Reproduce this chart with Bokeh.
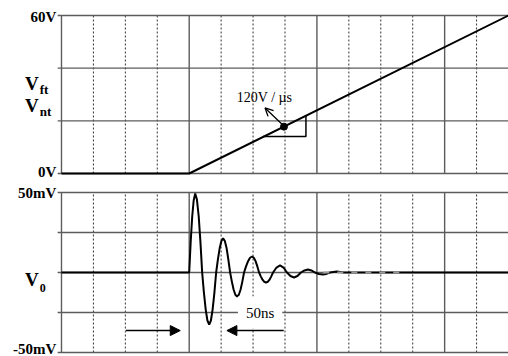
from bokeh.plotting import figure
from bokeh.models import Range1d, Label, Arrow, NormalHead, OpenHead
from bokeh.layouts import column
from bokeh.embed import file_html
from bokeh.resources import INLINE

# ---------------- data (time in ns) ----------------
major_t = [0, 200, 400, 600]
minor_t = [50, 100, 150, 250, 300, 350, 450, 500, 550, 650]

# top panel: V_ft / V_nt ramp (V)
ramp_t = [0, 200, 700]
ramp_v = [0, 0, 60]
top_grid_v = [0, 20, 40, 60]
top_ticks = [0, 60]
top_tick_labels = ["0V", "60V"]

# bottom panel: V_o ringing (mV)
osc_t = [0, 200, 202.3, 204.7, 207.0, 209.4, 212.1, 214.9, 217.6, 220.3,
         223.0, 225.8, 228.5, 231.3, 234.0, 236.7, 239.5, 242.2,
         244.9, 247.7, 250.4, 253.1, 255.8, 258.6, 261.3, 264.1,
         266.8, 269.5, 272.3, 275.0, 277.7, 280.5, 283.2, 285.9,
         289.0, 292.2, 295.3, 298.4, 301.2, 303.9, 306.7, 309.4,
         312.1, 314.8, 317.6, 320.3, 323.0, 325.8, 328.5, 331.3,
         336.7, 342.2, 347.7, 353.1, 358.6, 364.1, 369.5, 375.0,
         380.5, 385.9, 391.4, 396.9, 403.1, 409.4, 414.8, 420.3,
         431.2, 442.2, 700]
osc_v = [0, 0, 19, 35, 45, 49.4, 45.6, 35, 19, 0,
         -12.4, -23, -30, -32.5, -30, -23, -12.4, 0,
         8.1, 15.1, 19.7, 21.3, 19.7, 15.1, 8.1, 0,
         -5.7, -10.6, -13.9, -15, -13.9, -10.6, -5.7, 0,
         3.8, 7.1, 9.2, 10, 9.2, 7.1, 3.8, 0,
         -2.4, -4.5, -5.8, -6.3, -5.8, -4.5, -2.4, 0,
         3.1, 4.4, 3.1, 0, -2.2, -3.1, -2.2, 0,
         1.3, 1.9, 1.3, 0, -0.9, -1.25, -0.9, 0,
         0.6, 0, 0]
residue_t = [410, 530]
residue_v = [0, 0]
bot_grid_v = [-50, -25, 0, 25, 50]
bot_ticks = [-50, 50]
bot_tick_labels = ["-50mV", "50mV"]

# annotations
slope_text = "120V / \u00b5s"
slope_dot_t, slope_dot_v = [348.4], [17.8]
tri_t = [315.6, 382.8, 382.8]
tri_v = [14.05, 14.05, 22.0]

SERIF = "Liberation Serif"
GRID_SOLID = "#5c5c5c"
GRID_DOT = "#333333"
T_MIN, T_MAX = -95.5, 700
TICK_OUT = -6


def make_fig(height, y0, y1, vlo, vhi, grid_v, ticks, labels, label_y):
    p = figure(width=508, height=height, output_backend="svg", toolbar_location=None,
               x_axis_location=None, y_axis_location=None,
               x_range=Range1d(T_MIN, T_MAX), y_range=Range1d(y0, y1),
               min_border_left=0, min_border_right=0,
               min_border_top=0, min_border_bottom=0)
    p.outline_line_color = None
    p.background_fill_color = "white"
    p.border_fill_color = "white"
    p.xgrid.visible = False
    p.ygrid.visible = False
    # dotted minor vertical grid
    p.segment(x0=minor_t, y0=[vlo] * len(minor_t), x1=minor_t, y1=[vhi] * len(minor_t),
              line_color=GRID_DOT, line_width=1, line_dash="2 2")
    # solid major vertical grid
    p.segment(x0=major_t, y0=[vlo] * len(major_t), x1=major_t, y1=[vhi] * len(major_t),
              line_color=GRID_SOLID, line_width=1.4)
    # horizontal grid (with short stubs left of the frame edge)
    p.segment(x0=[TICK_OUT] * len(grid_v), y0=grid_v, x1=[T_MAX] * len(grid_v), y1=grid_v,
              line_color=GRID_SOLID, line_width=1.4)
    for tv, tl, ly in zip(ticks, labels, label_y):
        p.add_layout(Label(x=-8, y=ly, text=tl, text_align="right", text_baseline="middle",
                           text_font=SERIF, text_font_style="bold", text_font_size="15px",
                           text_color="black"))
    return p


# ---------------- top panel ----------------
p1 = make_fig(182, -3.418, 65.696, 0, 60, top_grid_v, top_ticks, top_tick_labels, [0.6, 59.6])
p1.line(ramp_t, ramp_v, line_color="black", line_width=2)
p1.line(tri_t, tri_v, line_color="black", line_width=1.5)
p1.scatter(slope_dot_t, slope_dot_v, size=7, color="black")
p1.add_layout(Arrow(end=OpenHead(size=8, line_width=1.3, line_color="black"),
                    x_start=345, y_start=18.8, x_end=318.75, y_end=24.9,
                    line_width=1.3, line_color="black"))
p1.add_layout(Label(x=318, y=29.0, text=slope_text, text_align="center",
                    text_baseline="middle", text_font=SERIF, text_font_size="14px",
                    text_color="black"))
for txt, sub, yv, ys in [("V", "ft", 34.0, 32.0), ("V", "nt", 25.8, 23.6)]:
    p1.add_layout(Label(x=-57, y=yv, text=txt, text_font=SERIF, text_font_style="bold",
                        text_font_size="19px", text_color="black", text_baseline="alphabetic"))
    p1.add_layout(Label(x=-34, y=ys, text=sub, text_font=SERIF, text_font_style="bold",
                        text_font_size="13px", text_color="black", text_baseline="alphabetic"))

# ---------------- bottom panel ----------------
p2 = make_fig(174, -52.5, 56.25, -50, 50, bot_grid_v, bot_ticks, bot_tick_labels, [-47.6, 50])
p2.line(osc_t, osc_v, line_color="black", line_width=2)
p2.line(residue_t, residue_v, line_color="#9a9a9a", line_width=2, line_dash="6 8")
p2.add_layout(Label(x=-57, y=-4.5, text="V", text_font=SERIF, text_font_style="bold",
                    text_font_size="19px", text_color="black", text_baseline="alphabetic"))
p2.add_layout(Label(x=-34, y=-9.5, text="0", text_font=SERIF, text_font_style="bold",
                    text_font_size="12px", text_color="black", text_baseline="alphabetic"))
p2.add_layout(Label(x=311, y=-25, text="50ns", text_align="center", text_baseline="middle",
                    text_font=SERIF, text_font_size="15px", text_color="black",
                    background_fill_color="white", padding=8))
p2.add_layout(Arrow(end=NormalHead(size=10, fill_color="black", line_color="black"),
                    x_start=101, y_start=-36.3, x_end=186, y_end=-36.3,
                    line_width=1.5, line_color="black"))
p2.add_layout(Arrow(end=NormalHead(size=10, fill_color="black", line_color="black"),
                    x_start=348, y_start=-36.3, x_end=259, y_end=-36.3,
                    line_width=1.5, line_color="black"))

layout = column(p1, p2, spacing=0)
open("out.html", "w").write(file_html(layout, INLINE))
